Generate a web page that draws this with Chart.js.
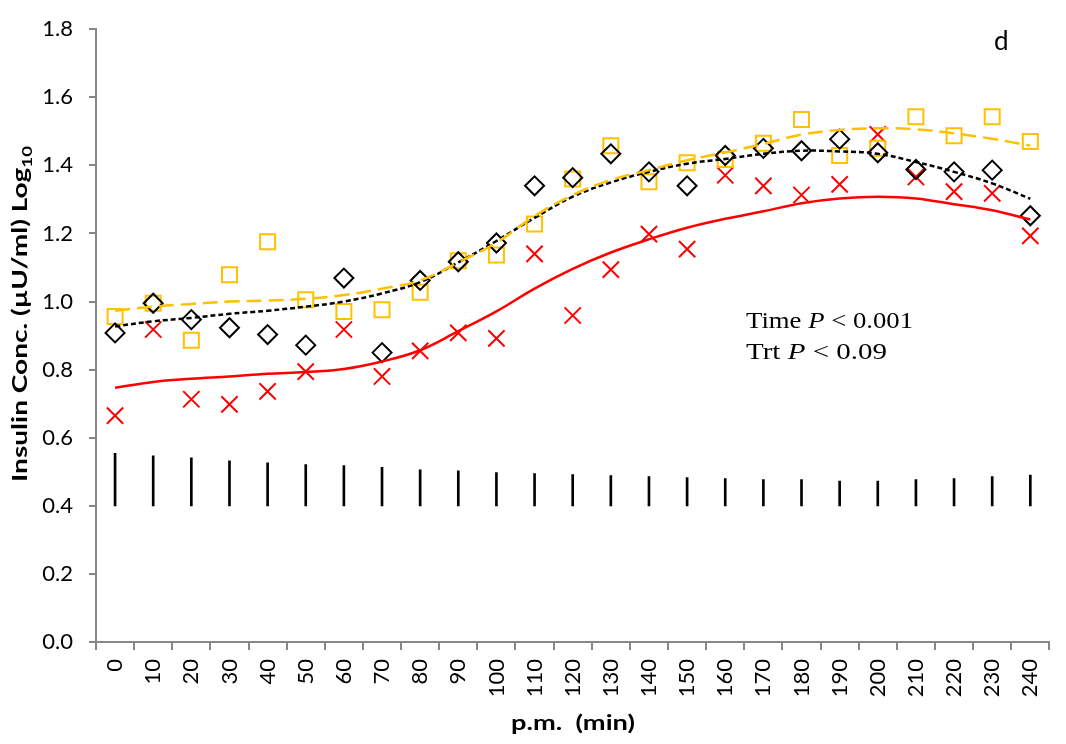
<!DOCTYPE html>
<html>
<head>
<meta charset="utf-8">
<script src="https://cdn.jsdelivr.net/npm/chart.js@4.4.1/dist/chart.umd.min.js"></script>
<style>
  html, body { margin: 0; padding: 0; background: #fff; }
  #wrap { width: 1066px; height: 744px; position: relative; }
</style>
</head>
<body>
<div id="wrap"><canvas id="c" width="1066" height="744"></canvas></div>
<script>
// Sampling times after the meal (min)
const times = ['0','10','20','30','40','50','60','70','80','90','100','110','120',
               '130','140','150','160','170','180','190','200','210','220','230','240'];

// Treatment means, log10 insulin (µU/ml)
const diamondMeans = [0.908,0.995,0.947,0.923,0.903,0.872,1.069,0.850,1.062,1.117,1.172,1.340,1.364,
                      1.434,1.381,1.340,1.429,1.450,1.443,1.477,1.437,1.388,1.381,1.386,1.252];
const squareMeans  = [0.956,0.995,0.886,1.079,1.176,1.005,0.971,0.976,1.027,1.120,1.137,1.228,1.360,
                      1.458,1.352,1.408,1.417,1.465,1.535,1.429,1.450,1.543,1.487,1.543,1.470];
const crossMeans   = [0.665,0.918,0.713,0.698,0.736,0.794,0.918,0.780,0.855,0.908,0.892,1.140,0.959,
                      1.094,1.198,1.154,1.371,1.340,1.313,1.344,1.491,1.366,1.323,1.318,1.193];

// Fitted trend curves for each treatment
const diamondTrend = [0.927,0.942,0.952,0.964,0.973,0.985,1.000,1.024,1.057,1.115,1.178,1.246,1.308,
                      1.350,1.381,1.405,1.419,1.434,1.443,1.441,1.434,1.410,1.381,1.347,1.302];
const squareTrend  = [0.973,0.985,0.993,1.000,1.003,1.008,1.019,1.038,1.062,1.115,1.173,1.251,1.313,
                      1.357,1.386,1.415,1.438,1.463,1.490,1.504,1.509,1.506,1.494,1.478,1.458];
const crossTrend   = [0.747,0.764,0.773,0.780,0.788,0.793,0.802,0.824,0.857,0.913,0.971,1.038,1.096,
                      1.144,1.183,1.217,1.243,1.265,1.289,1.303,1.308,1.303,1.286,1.268,1.241];

// Pooled SEM bars, drawn upward from a common base
const semBase = 0.4;
const semTop  = [0.554,0.547,0.541,0.532,0.526,0.521,0.518,0.513,0.506,0.503,0.498,0.495,0.492,
                 0.489,0.486,0.483,0.480,0.477,0.477,0.473,0.473,0.477,0.480,0.486,0.490];

const yTicks = [0.0,0.2,0.4,0.6,0.8,1.0,1.2,1.4,1.6,1.8];

const GOLD = '#FFC000', RED = '#FF0000', AXIS = '#878787';
const SANS = 'Lato, "Open Sans", "Liberation Sans", sans-serif';
const SERIF = '"Liberation Serif", "DejaVu Serif", serif';

// Draw a sequence of text runs, squeezed/stretched to a given width
function drawRuns(ctx, runs, x, y, width, align) {
  let total = 0;
  runs.forEach(r => { ctx.font = r.font; r.w = ctx.measureText(r.text).width; total += r.w; });
  const sx = width ? width / total : 1;
  ctx.save();
  ctx.translate(x, y);
  ctx.scale(sx, 1);
  let cx = align === 'center' ? -total / 2 : 0;
  runs.forEach(r => {
    ctx.font = r.font;
    ctx.fillText(r.text, cx, r.dy || 0);
    cx += r.w;
  });
  ctx.restore();
}

const textPlugin = {
  id: 'panelText',
  afterDraw(chart) {
    const ctx = chart.ctx;
    ctx.save();
    ctx.fillStyle = '#000';
    ctx.textBaseline = 'alphabetic';
    ctx.textAlign = 'left';

    // y-axis title (rotated)
    ctx.save();
    ctx.translate(26.5, 314);
    ctx.rotate(-Math.PI / 2);
    drawRuns(ctx, [
      { text: 'Insulin Conc. (µU/ml) Log', font: 'bold 21px ' + SANS },
      { text: '10', font: 'bold 14px ' + SANS, dy: 5 }
    ], 0, 0, 336, 'center');
    ctx.restore();

    // x-axis title
    drawRuns(ctx, [{ text: 'p.m.  (min)', font: 'bold 21px ' + SANS }], 573, 730, 124, 'center');

    // panel letter
    ctx.font = '26px ' + SANS;
    ctx.fillText('d', 994, 50);

    // statistics
    drawRuns(ctx, [
      { text: 'Time ', font: '23px ' + SERIF },
      { text: 'P', font: 'italic 23px ' + SERIF },
      { text: ' < 0.001', font: '23px ' + SERIF }
    ], 746, 328, 167, 'left');
    drawRuns(ctx, [
      { text: 'Trt ', font: '23px ' + SERIF },
      { text: 'P', font: 'italic 23px ' + SERIF },
      { text: ' < 0.09', font: '23px ' + SERIF }
    ], 746, 359, 141, 'left');
    ctx.restore();
  }
};

const markerSet = (data, style, radius, color, width) => ({
  type: 'line', data, showLine: false, order: 2,
  pointStyle: style, pointRadius: radius, pointHoverRadius: radius,
  pointBorderColor: color, pointBackgroundColor: 'rgba(0,0,0,0)', pointBorderWidth: width
});
const trendSet = (data, color, dash) => ({
  type: 'line', data, order: 1, borderColor: color, borderWidth: 2.5,
  borderDash: dash, pointRadius: 0, tension: 0.4, fill: false
});

new Chart(document.getElementById('c'), {
  type: 'line',
  data: {
    labels: times,
    datasets: [
      { type: 'bar', data: semTop.map(t => [semBase, t]), backgroundColor: '#000',
        borderWidth: 0, barThickness: 2, order: 3 },
      markerSet(diamondMeans, 'rectRot', 9.5, '#000', 2),
      markerSet(squareMeans, 'rect', 10.6, GOLD, 2),
      markerSet(crossMeans, 'crossRot', 11.5, RED, 2),
      trendSet(crossTrend, RED, []),
      trendSet(squareTrend, GOLD, [15, 7]),
      trendSet(diamondTrend, '#000', [5, 3])
    ]
  },
  options: {
    responsive: false,
    animation: false,
    layout: { padding: { top: 20, right: 7, left: 0, bottom: 0 } },
    plugins: { legend: { display: false }, tooltip: { enabled: false } },
    scales: {
      x: {
        type: 'category',
        offset: true,
        grid: { offset: true, drawOnChartArea: false, drawTicks: true, tickLength: 8, color: AXIS, lineWidth: 2 },
        border: { color: AXIS, width: 2 },
        ticks: { minRotation: 90, maxRotation: 90, padding: 9, color: '#000',
                 font: { family: SANS, size: 22 } },
        afterFit(s) { s.height = 102; }
      },
      y: {
        min: 0, max: 1.8,
        afterBuildTicks(s) { s.ticks = yTicks.map(v => ({ value: v })); },
        grid: { drawOnChartArea: false, drawTicks: true, tickLength: 7, color: AXIS, lineWidth: 2 },
        border: { color: AXIS, width: 2 },
        ticks: { padding: 16, color: '#000', font: { family: SANS, size: 22 },
                 callback: v => Number(v).toFixed(1) },
        afterFit(s) { s.width = 96; }
      }
    }
  },
  plugins: [textPlugin]
});
</script>
</body>
</html>
